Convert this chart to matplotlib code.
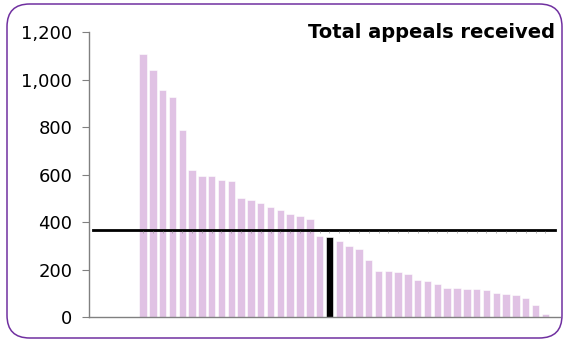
import matplotlib.pyplot as plt
from matplotlib.patches import FancyBboxPatch
from matplotlib.ticker import FuncFormatter

# appeals received per organisation, sorted high to low
appeals = [1109, 1042, 957, 925, 789, 618, 595, 595, 578, 571,
           500, 493, 479, 465, 452, 432, 424, 414, 343, 336,
           319, 298, 287, 242, 195, 195, 190, 183, 157, 153,
           138, 124, 124, 120, 120, 112, 101, 98, 94, 82,
           51, 11]
highlight = 19          # index of the bar drawn in black
average = 366           # reference line level
title = 'Total appeals received'

fig = plt.figure(figsize=(5.68, 3.42), dpi=100)
ax = fig.add_axes([0.1567, 0.0731, 0.8293, 0.8333])

x = list(range(len(appeals)))
colors = ['#e0c2e4'] * len(appeals)
colors[highlight] = 'black'
ax.bar(x, appeals, width=0.76, color=colors, edgecolor='white', linewidth=0.4, zorder=2)

# average line with small category ticks
ax.plot([-5.1, 42.0], [average, average], color='black', linewidth=2, zorder=3)
ax.plot(x, [average - 7] * len(x), linestyle='none', marker='|', markersize=2,
        color='#999999', markeredgewidth=0.5, zorder=3)

ax.set_xlim(-5.5, 42.5)
ax.set_ylim(0, 1200)
ax.set_yticks(range(0, 1201, 200))
ax.yaxis.set_major_formatter(FuncFormatter(lambda v, p: f'{int(v):,}'))
ax.set_xticks([])
ax.tick_params(axis='y', labelsize=13, length=5, width=0.8, color='#808080', pad=7)

for side in ['top', 'right']:
    ax.spines[side].set_visible(False)
for side in ['left', 'bottom']:
    ax.spines[side].set_color('#808080')
    ax.spines[side].set_linewidth(1.0)

fig.text(555 / 568, 1 - 33 / 342, title, ha='right', va='center',
         fontsize=14, fontweight='bold')

# rounded purple frame around everything
frame = FancyBboxPatch((7 / 568, 4 / 342), 555 / 568, 334 / 342,
                       boxstyle='round,pad=0,rounding_size=0.04',
                       transform=fig.transFigure, facecolor='none',
                       edgecolor='#7030a0', linewidth=1.1,
                       mutation_aspect=568 / 342)
fig.patches.append(frame)

plt.savefig('out.png', dpi=100)
